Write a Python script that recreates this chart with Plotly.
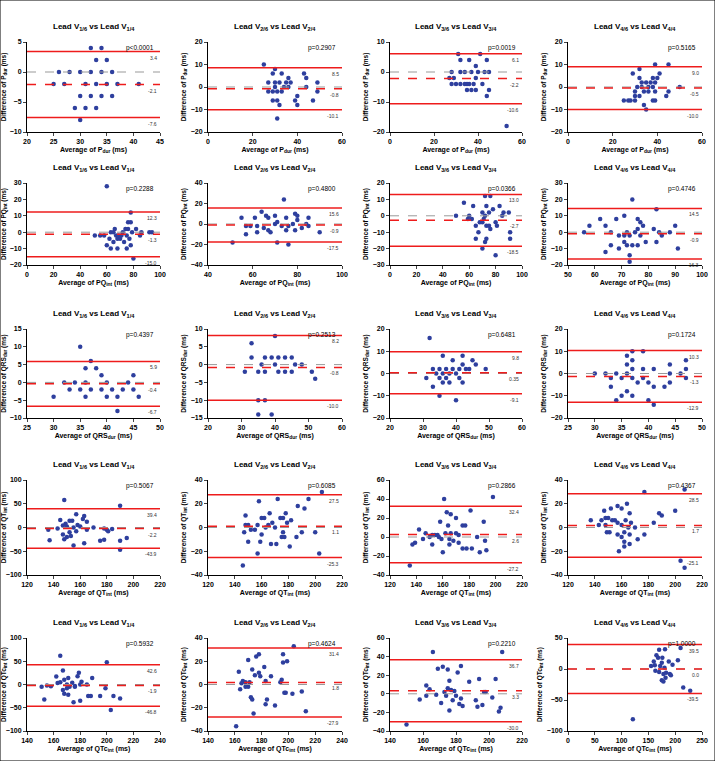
import plotly.graph_objects as go

leads = ['1', '2', '3', '4']
params = ['P<sub>dur</sub>', 'PQ<sub>int</sub>', 'QRS<sub>dur</sub>', 'QT<sub>int</sub>', 'QTc<sub>int</sub>']

# x, y point pairs per panel (row = parameter, col = lead)
pts = [
    [  # P dur
        [(32,4),(34,4),(33,2),(35,2),(26,0),(28,0),(30,0),(32,0),(34,0),(36,0),(25,-2),(27,-2),(31,-2),(33,-2),(35,-2),(37,-2),(41,-2),(30,-4),(32,-4),(34,-4),(36,-4),(29,-6),(31,-6),(33,-6),(30,-8)],
        [(25,10),(30,8),(29,6),(33,6),(43,6),(36,4),(44,4),(27,2),(30,2),(32,2),(35,2),(37,2),(49,2),(30,0),(34,0),(36,0),(44,0),(27,-2),(29,-2),(31,-2),(33,-2),(49,-2),(40,-4),(29,-6),(31,-6),(39,-6),(47,-6),(32,-8),(40,-8),(31,-14)],
        [(31,6),(41,6),(32,4),(36,4),(44,4),(39,2),(28,0),(32,0),(34,0),(37,0),(40,0),(43,0),(45,0),(27,-2),(29,-2),(39,-2),(28,-4),(30,-4),(32,-4),(34,-4),(35,-4),(36,-4),(38,-4),(42,-4),(35,-6),(37,-6),(39,-6),(45,-6),(44,-8),(53,-18)],
        [(29,6),(32,8),(39,10),(45,10),(41,6),(32,4),(38,4),(40,4),(33,2),(35,2),(37,2),(39,2),(31,0),(33,0),(36,0),(38,0),(50,0),(30,-2),(34,-2),(36,-2),(39,-2),(45,-2),(30,-4),(32,-4),(44,-4),(25,-6),(27,-6),(28,-6),(30,-6),(38,-6),(39,-6),(34,-8),(35,-10)],
    ],
    [  # PQ int
        [(60,28),(78,12),(76,6),(78,6),(66,2),(74,2),(76,2),(82,2),(63,0),(65,0),(72,0),(79,0),(86,0),(92,0),(94,0),(51,-2),(55,-2),(58,-2),(67,-2),(69,-2),(71,-2),(75,-2),(85,-2),(62,-4),(68,-4),(70,-4),(77,-4),(65,-6),(73,-6),(60,-8),(78,-8),(63,-10),(68,-10),(75,-10),(80,-16)],
        [(74,24),(64,12),(79,10),(55,6),(61,6),(66,8),(67,6),(75,6),(80,8),(85,6),(70,8),(80,4),(71,2),(57,-2),(59,-2),(62,-2),(70,0),(73,-2),(76,-2),(78,0),(84,0),(85,-2),(65,-4),(82,-4),(67,-6),(75,-6),(79,-6),(57,-10),(62,-8),(68,-8),(90,-8),(51,-18),(71,-18),(76,-20)],
        [(56,8),(72,12),(76,12),(63,6),(73,6),(83,6),(70,2),(75,2),(78,4),(86,2),(90,2),(50,0),(60,0),(72,0),(85,0),(59,-2),(62,-2),(71,-2),(80,-4),(68,-4),(70,-4),(65,-6),(73,-6),(75,-6),(81,-6),(76,-8),(67,-10),(91,-10),(65,-14),(73,-14),(91,-14),(72,-16),(70,-20),(80,-24)],
        [(74,20),(83,14),(62,8),(68,8),(71,10),(76,8),(58,4),(64,4),(77,6),(78,4),(82,2),(76,2),(56,0),(66,0),(72,0),(75,0),(84,0),(88,0),(90,4),(69,-2),(71,-2),(73,-2),(77,-2),(85,-2),(71,-6),(79,-6),(83,-6),(66,-8),(72,-8),(74,-8),(76,-8),(69,-10),(91,-10),(64,-12),(73,-14),(73,-18)],
    ],
    [  # QRS dur
        [(35,10),(37,6),(36,4),(38,4),(39,2),(45,2),(32,0),(34,0),(36,0),(40,0),(44,0),(30,-4),(33,-2),(35,-2),(37,-2),(39,-2),(41,-2),(43,-2),(45,-2),(36,-4),(40,-4),(42,-4),(46,-4),(42,-8)],
        [(40,8),(33,6),(33,2),(37,2),(39,2),(41,2),(43,2),(45,2),(36,0),(40,0),(46,0),(48,0),(31,-2),(35,-2),(37,-2),(41,-2),(43,-2),(45,-2),(51,-2),(52,-4),(35,-10),(37,-10),(35,-14),(39,-14)],
        [(32,16),(36,8),(42,8),(39,6),(45,6),(42,4),(46,4),(33,2),(35,2),(37,2),(39,2),(41,2),(43,2),(44,2),(49,2),(34,0),(36,0),(38,0),(40,0),(31,-2),(35,-2),(37,-2),(41,-2),(36,-4),(38,-4),(42,-4),(33,-6),(35,-10),(40,-12)],
        [(37,10),(39,10),(36,8),(37,6),(47,6),(36,4),(44,4),(37,2),(39,2),(41,2),(47,2),(30,0),(32,0),(34,0),(36,0),(44,0),(46,0),(33,-2),(35,-2),(37,-2),(39,-2),(40,-4),(38,-4),(47,-2),(33,-6),(41,-6),(43,-6),(36,-8),(35,-10),(37,-10),(34,-12),(40,-12),(41,-14),(44,-4)],
    ],
    [  # QT int
        [(148,58),(190,46),(157,28),(163,24),(162,18),(145,16),(152,14),(154,14),(165,12),(149,8),(147,4),(150,2),(158,5),(160,2),(155,0),(170,0),(178,-2),(184,-3),(136,-5),(143,-2),(152,-10),(147,-15),(157,-8),(165,-5),(150,-20),(148,-25),(153,-18),(180,-5),(181,-8),(137,-27),(175,-28),(178,-26),(190,-28),(195,-22),(155,-38),(163,-33),(190,-47)],
        [(205,30),(172,24),(195,24),(158,22),(187,18),(192,16),(166,12),(178,12),(148,10),(160,8),(162,8),(174,8),(176,8),(182,6),(179,4),(165,2),(168,4),(148,2),(150,2),(157,2),(163,0),(155,-2),(152,-2),(170,0),(147,-4),(176,-4),(190,-4),(200,-4),(160,-6),(175,-8),(177,-8),(186,-8),(150,-12),(159,-12),(167,-14),(171,-14),(181,-16),(157,-22),(203,-22),(146,-32)],
        [(161,40),(198,42),(163,26),(166,24),(181,28),(158,16),(164,12),(175,12),(177,12),(191,16),(170,20),(142,8),(156,2),(162,4),(166,4),(147,4),(170,4),(172,2),(152,2),(139,-6),(145,-2),(150,0),(154,2),(157,0),(159,-2),(165,-2),(168,-4),(172,-6),(175,-12),(178,-12),(160,-16),(165,-8),(152,-8),(137,-8),(182,-12),(188,-16),(193,-14),(186,0),(192,-4),(135,-30)],
        [(177,30),(207,32),(164,20),(157,18),(160,16),(152,16),(147,14),(200,14),(166,12),(188,12),(190,10),(148,8),(150,8),(137,6),(145,6),(153,6),(155,6),(163,6),(167,4),(157,4),(148,2),(143,2),(160,2),(165,0),(170,0),(184,4),(149,-4),(151,-4),(157,-6),(162,-4),(160,-8),(166,-6),(172,-10),(177,-6),(162,-12),(166,-14),(162,-16),(158,-20),(204,-28),(207,-34)],
    ],
    [  # QTc int
        [(165,62),(200,48),(167,30),(179,25),(162,17),(171,14),(178,18),(189,14),(165,5),(168,10),(174,4),(181,6),(185,0),(163,3),(170,0),(176,-3),(180,0),(172,-5),(155,-2),(151,-5),(158,-4),(167,-12),(170,-8),(176,-5),(168,-20),(171,-22),(186,-25),(188,-25),(195,-25),(199,-8),(205,-25),(210,-30),(153,-32),(175,-38),(180,-35),(203,-55)],
        [(204,33),(178,26),(176,24),(196,26),(199,20),(170,21),(196,19),(182,15),(163,11),(173,13),(175,8),(178,10),(179,7),(187,7),(195,4),(166,3),(168,2),(183,3),(165,1),(171,2),(170,-2),(168,-2),(194,2),(197,-7),(198,-7),(203,-8),(210,-6),(164,-4),(172,-11),(173,-13),(184,-13),(190,-18),(183,-17),(174,-25),(213,-23),(161,-36)],
        [(166,45),(208,45),(172,29),(183,30),(169,27),(175,26),(181,23),(176,14),(188,13),(194,16),(204,16),(162,9),(164,5),(173,2),(175,6),(177,4),(179,3),(158,-6),(162,-2),(168,-1),(171,-10),(174,-2),(176,-18),(178,-7),(180,-2),(183,-5),(182,-11),(184,-13),(192,-7),(193,-14),(196,-12),(197,2),(198,2),(202,-4),(206,-19),(207,-15),(150,-33)],
        [(170,31),(181,32),(210,34),(165,22),(168,18),(176,18),(160,12),(175,10),(188,12),(205,14),(155,5),(162,6),(172,5),(180,2),(195,7),(163,-3),(170,-5),(178,-8),(183,-6),(190,-8),(192,-10),(175,-18),(178,-20),(182,-14),(215,-30),(228,-35),(121,-81)],
    ],
]

means = [[-2.1, -0.8, -2.2, -0.5], [-1.3, -0.9, -2.7, -0.9], [-0.4, -0.8, 0.35, -1.3], [-2.2, 1.1, 2.6, 1.7], [-1.9, 1.8, 3.3, 0.0]]
uppers = [[3.4, 8.5, 6.1, 9.0], [12.3, 15.6, 13.0, 14.5], [5.9, 8.2, 9.8, 10.3], [39.4, 27.5, 32.4, 28.5], [42.6, 31.4, 36.7, 39.5]]
lowers = [[-7.6, -10.1, -10.6, -10.0], [-15.0, -17.5, -18.5, -16.3], [-6.7, -10.0, -9.1, -12.9], [-43.9, -25.3, -27.2, -25.1], [-46.8, -27.9, -30.0, -39.5]]
pvals = [['p<0.0001', 'p=0.2907', 'p=0.0019', 'p=0.5165'],
         ['p=0.2288', 'p=0.4800', 'p=0.0366', 'p=0.4746'],
         ['p=0.4397', 'p=0.2513', 'p=0.6481', 'p=0.1724'],
         ['p=0.5067', 'p=0.6085', 'p=0.2866', 'p=0.4367'],
         ['p=0.5932', 'p=0.4624', 'p=0.2210', 'p=1.0000']]
# (min, max, dtick)
xr = [[(20, 45, 5), (0, 60, 20), (0, 60, 20), (0, 60, 20)],
      [(0, 100, 20), (40, 100, 20), (0, 100, 20), (50, 100, 10)],
      [(25, 50, 5), (20, 60, 10), (20, 60, 10), (25, 50, 5)],
      [(120, 220, 20)] * 4,
      [(140, 240, 20), (140, 240, 20), (140, 220, 20), (0, 250, 50)]]
yr = [[(-10, 5, 5), (-20, 20, 10), (-20, 10, 10), (-20, 20, 10)],
      [(-20, 30, 10), (-40, 40, 20), (-30, 20, 10), (-20, 30, 10)],
      [(-10, 15, 5), (-15, 10, 5), (-20, 20, 10), (-20, 20, 10)],
      [(-100, 100, 50), (-40, 40, 20), (-40, 60, 20), (-40, 40, 20)],
      [(-100, 100, 50), (-40, 40, 20), (-40, 60, 20), (-100, 50, 50)]]

W, H = 715, 761
col_px = [(27, 160), (208, 342), (390, 522), (568, 702)]
row_px = [(42, 132), (183, 265), (329, 418), (480, 575), (638, 731)]
FONT = 'Liberation Sans'
BLUE = '#2e3f9e'

fig = go.Figure()
layout = dict(width=W, height=H, margin=dict(l=0, r=0, t=0, b=0),
              paper_bgcolor='white', plot_bgcolor='white', showlegend=False,
              font=dict(family=FONT, color='black'))
shapes, annots = [], []

for r in range(5):
    for c in range(4):
        k = r * 4 + c + 1
        sx = '' if k == 1 else str(k)
        xs = [p[0] for p in pts[r][c]]
        ys = [p[1] for p in pts[r][c]]
        fig.add_trace(go.Scatter(x=xs, y=ys, mode='markers', xaxis='x' + sx, yaxis='y' + sx,
                                 marker=dict(color=BLUE, size=4.5), hoverinfo='skip', cliponaxis=False))
        x0, x1, dx = xr[r][c]
        y0, y1, dy = yr[r][c]
        xd = [col_px[c][0] / W, col_px[c][1] / W]
        yd = [1 - row_px[r][1] / H, 1 - row_px[r][0] / H]
        ax = dict(showgrid=False, zeroline=False, showline=True, linecolor='black', linewidth=1,
                  ticks='outside', ticklen=3, tickwidth=1, automargin=False,
                  tickfont=dict(size=7, family=FONT, weight='bold', color='black'))
        layout['xaxis' + sx] = dict(ax, domain=xd, range=[x0, x1], dtick=dx, tick0=x0, anchor='y' + sx,
                                    title=dict(text='Average of ' + params[r] + ' (ms)', standoff=2,
                                               font=dict(size=7, weight='bold', color='black')))
        layout['yaxis' + sx] = dict(ax, domain=yd, range=[y0, y1], dtick=dy, tick0=y0, anchor='x' + sx,
                                    title=dict(text='Difference of ' + params[r] + ' (ms)', standoff=3,
                                               font=dict(size=6.5, weight='bold', color='black')))
        xref, yref = 'x' + sx + ' domain', 'y' + sx
        shapes.append(dict(type='line', xref=xref, yref=yref, x0=0, x1=1, y0=0, y1=0,
                           line=dict(color='#999999', width=1, dash='dash')))
        for v, dash in [(uppers[r][c], 'solid'), (lowers[r][c], 'solid'), (means[r][c], 'dash')]:
            shapes.append(dict(type='line', xref=xref, yref=yref, x0=0, x1=1, y0=v, y1=v,
                               line=dict(color='#ee1c1c', width=1.5, dash=dash)))
        for v in [uppers[r][c], lowers[r][c], means[r][c]]:
            annots.append(dict(xref=xref, yref=yref, x=0.99, y=v, text=f'{v:g}' if v == 0.35 else f'{v:.1f}',
                               showarrow=False, xanchor='right', yanchor='top', yshift=-1,
                               font=dict(size=5, color='#333333')))
        annots.append(dict(xref='paper', yref='paper', x=(xd[0] + xd[1]) / 2, y=yd[1] + 8 / H,
                           text=f'Lead V<sub>{leads[c]}/6</sub> vs Lead V<sub>{leads[c]}/4</sub>',
                           showarrow=False, xanchor='center', yanchor='bottom',
                           font=dict(size=8, weight='bold', color='black')))
        annots.append(dict(xref=xref, yref='y' + sx + ' domain', x=0.97, y=1.0, text=pvals[r][c],
                           showarrow=False, xanchor='right', yanchor='top', font=dict(size=6.5, color='black')))

shapes.append(dict(type='rect', xref='paper', yref='paper', x0=0, x1=1, y0=0, y1=1,
                   line=dict(color='black', width=1)))
layout['shapes'] = shapes
layout['annotations'] = annots
fig.update_layout(**layout)
fig.write_html('out.html', config={'displayModeBar': False},
               post_script="document.body.style.margin='0';document.body.style.overflow='hidden';")
